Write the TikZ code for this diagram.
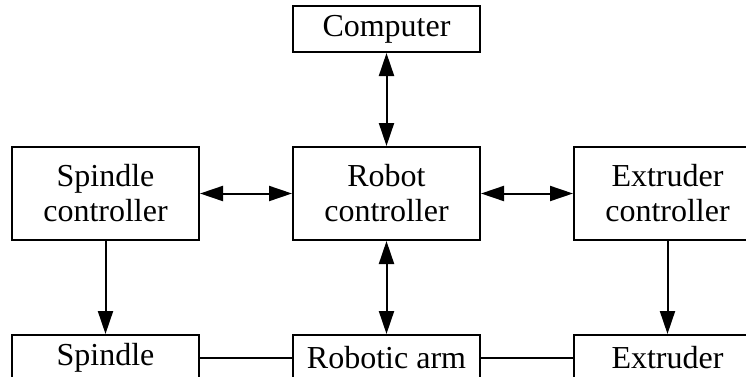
\documentclass[tikz,border=0pt]{standalone}
\usepackage{fontspec}
\setmainfont{Liberation Serif}
\usetikzlibrary{positioning,arrows.meta}
\tikzset{block/.style={
        draw,
        line width=1pt,
        minimum width=93.5pt,
        minimum height=23pt,
        inner sep=0pt,
        align=center,
        font=\fontsize{16}{17.5}\selectfont } }
\tikzset{bigblock/.style={
        block,
        minimum height=46.5pt } }
\tikzset{link/.style={ line width=1pt } }
\tikzset{onearrow/.style={ link, -{Triangle[length=11.5pt,width=7.5pt]} } }
\tikzset{twoarrow/.style={ link, {Triangle[length=11.5pt,width=7.5pt]}-{Triangle[length=11.5pt,width=7.5pt]} } }

\begin{document}
\begin{tikzpicture}

\useasboundingbox (0,0) rectangle (373pt,-188pt);
\clip (0,0) rectangle (373pt,-188pt);

\node[bigblock] (robotctl) at (193.25pt,-96.75pt) {Robot\\controller};
\node[block] (computer) [above = 46.5pt of robotctl] {Computer};
\node[bigblock] (spindlectl) [left = 46pt of robotctl] {Spindle\\controller};
\node[bigblock] (extruderctl) [right = 46pt of robotctl] {Extruder\\controller};

%% lower row
\node[block] (arm) [below = 46.5pt of robotctl] {Robotic arm};
\node[block] (spindle) [below = 46.5pt of spindlectl] {Spindle};
\node[block] (extruder) [below = 46.5pt of extruderctl] {Extruder};

\path
(computer) edge [twoarrow] (robotctl)
(spindlectl) edge [twoarrow] (robotctl)
(robotctl) edge [twoarrow] (extruderctl)
(robotctl) edge [twoarrow] (arm)

(spindlectl) edge [onearrow] (spindle)
(extruderctl) edge [onearrow] (extruder)

(spindle) edge [link] (arm)
(arm) edge [link] (extruder)
;

\end{tikzpicture}
\end{document}
